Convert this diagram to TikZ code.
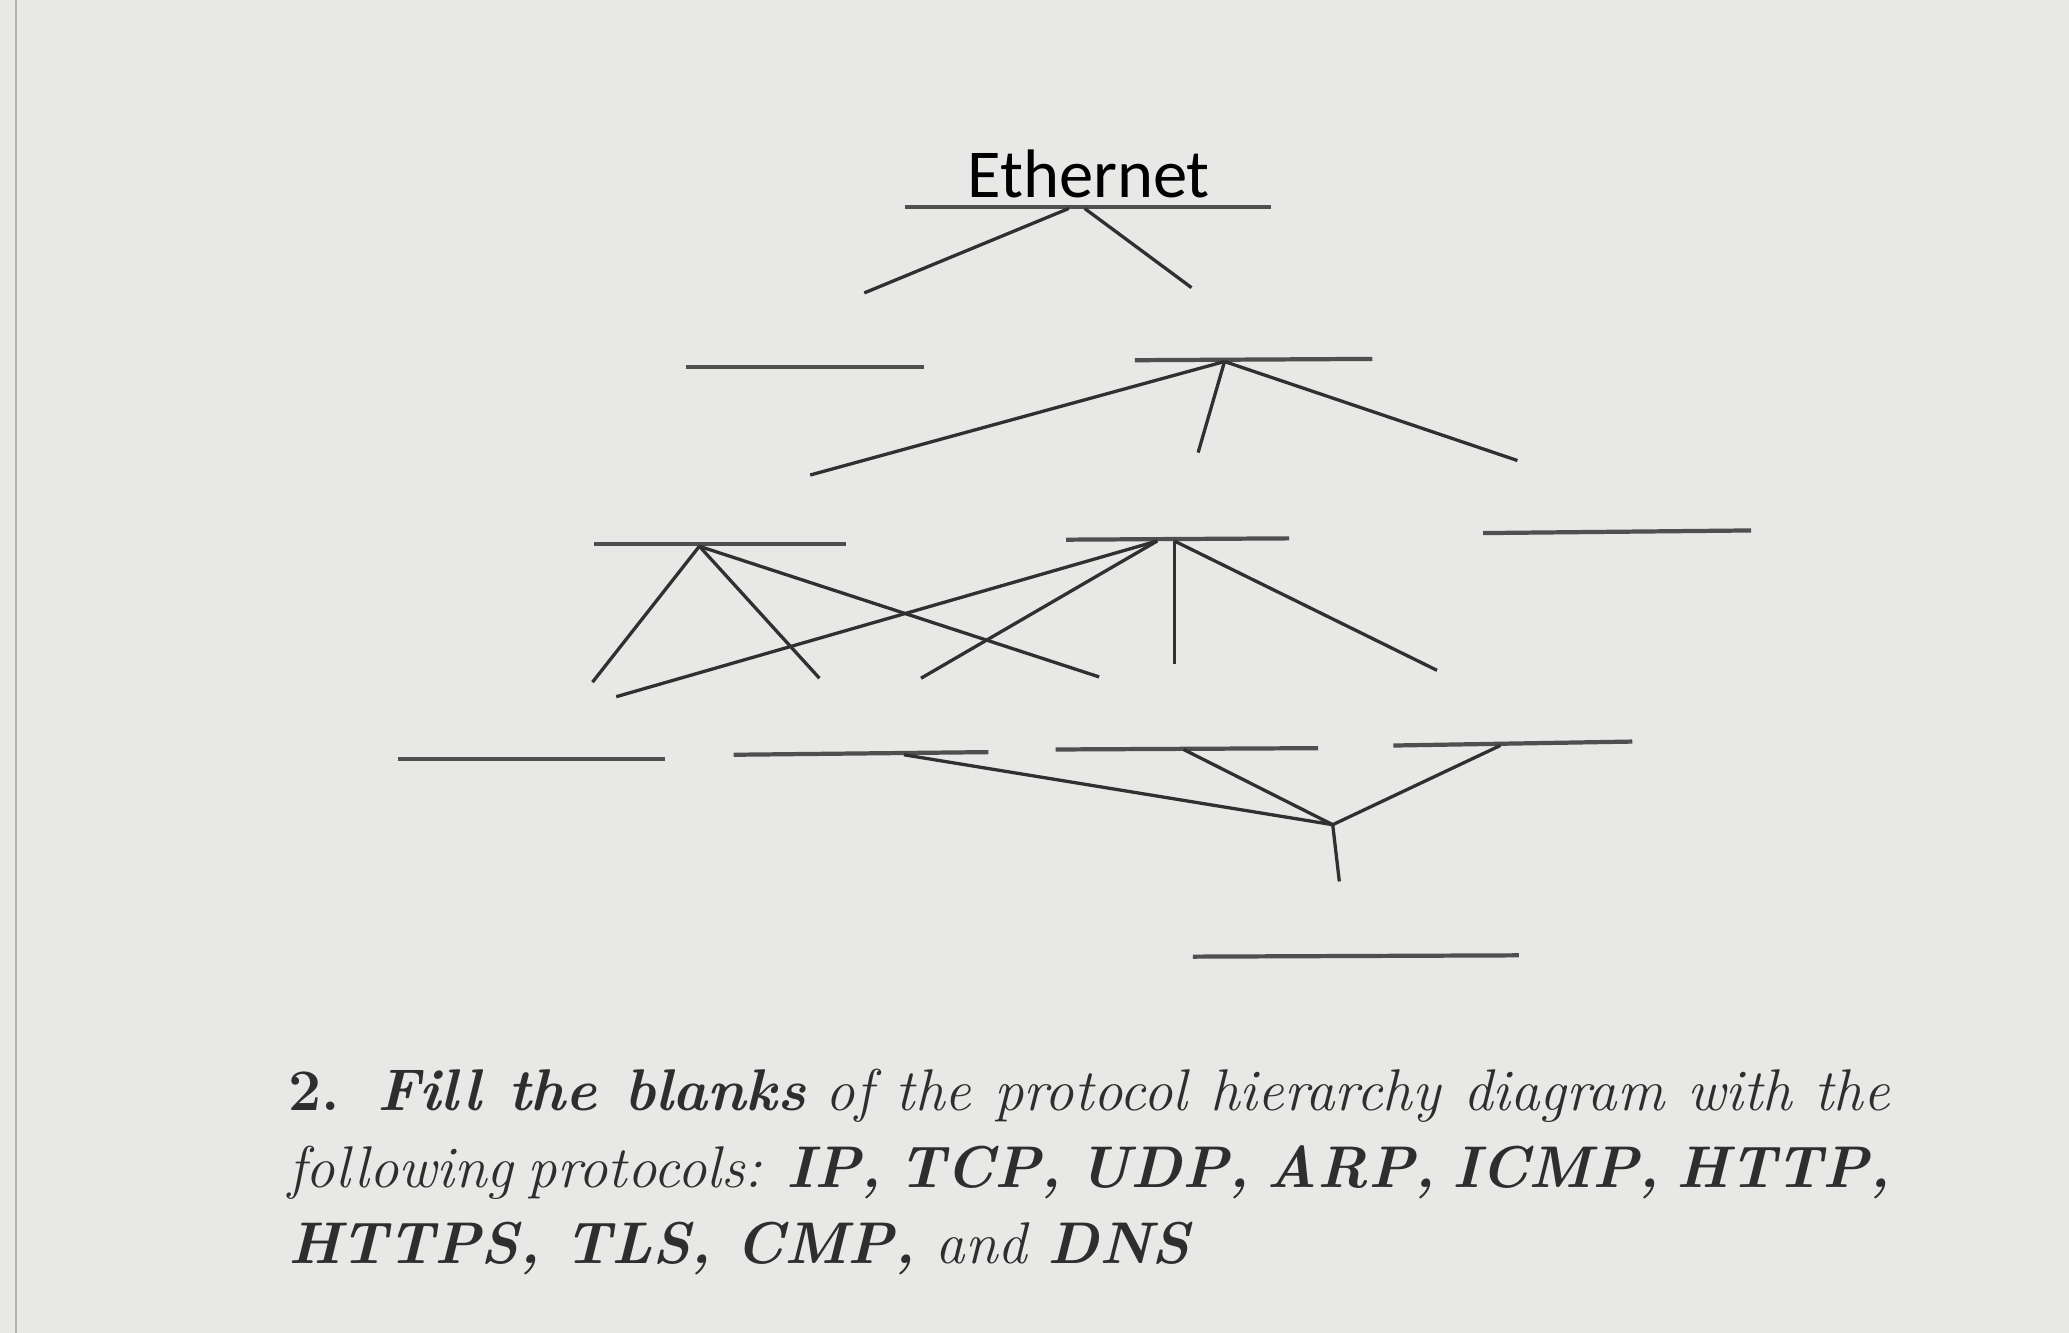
\documentclass[tikz,border=0pt]{standalone}
\usepackage{fontspec}
\newfontfamily\ethfont{Carlito}
\usepackage{xcolor}
\usepackage{tikz}
\usetikzlibrary{positioning}
\definecolor{paper}{HTML}{E8E8E6}
\definecolor{ink}{HTML}{303030}
\tikzset{blank/.style={line width=1.6pt, color=ink!85},
         branch/.style={line width=1.25pt, color=ink}}

\begin{document}
\begin{tikzpicture}
[every node/.style={inner sep=0pt}]
\fill [paper] (0pt, 0pt) rectangle (784pt, -505pt);
\useasboundingbox (0pt, 0pt) rectangle (784pt, -505pt);
\draw [line width=0.6pt, color=gray!60] (6pt, 0pt) -- (6pt, -505pt);
% top: Ethernet
\node (eth) [font=\ethfont\fontsize{26}{31}\selectfont, anchor=base] at (412.5pt, -75pt) {Ethernet};
\coordinate (ethW) at (343pt, -78.5pt);
\coordinate (ethE) at (481.5pt, -78.5pt);
\coordinate (ethT) at (405pt, -79pt);
\coordinate (ethT2) at (411pt, -79pt);
\coordinate (ethA) at (327.5pt, -111pt);
\coordinate (ethB) at (451.5pt, -109pt);
\draw [blank] (ethW) to (ethE);
\draw [branch] (ethT) to (ethA);
\draw [branch] (ethT2) to (ethB);
% second row
\coordinate (r2aW) at (260pt, -139pt);
\coordinate (r2aE) at (350pt, -139pt);
\coordinate (r2bW) at (430pt, -136.5pt);
\coordinate (r2bE) at (520pt, -136pt);
\coordinate (r2bT) at (464pt, -137pt);
\coordinate (r2bA) at (307pt, -180pt);
\coordinate (r2bB) at (454pt, -171.5pt);
\coordinate (r2bC) at (575pt, -174.5pt);
\draw [blank] (r2aW) to (r2aE);
\draw [blank] (r2bW) to (r2bE);
\draw [branch] (r2bT) to (r2bA);
\draw [branch] (r2bT) to (r2bB);
\draw [branch] (r2bT) to (r2bC);
% third row
\coordinate (r3aW) at (225pt, -206pt);
\coordinate (r3aE) at (320.5pt, -206pt);
\coordinate (r3aT) at (265pt, -207pt);
\coordinate (r3aA) at (224.5pt, -258.5pt);
\coordinate (r3aB) at (310.5pt, -257pt);
\coordinate (r3aC) at (416.5pt, -256.5pt);
\coordinate (r3bW) at (404pt, -204.5pt);
\coordinate (r3bE) at (488.5pt, -204pt);
\coordinate (r3bT) at (438.5pt, -205pt);
\coordinate (r3bT2) at (445pt, -205pt);
\coordinate (r3bA) at (233.5pt, -264pt);
\coordinate (r3bB) at (349pt, -257pt);
\coordinate (r3bC) at (445pt, -251.5pt);
\coordinate (r3bD) at (544.5pt, -254pt);
\coordinate (r3cW) at (562pt, -202pt);
\coordinate (r3cE) at (663.5pt, -201pt);
\draw [blank] (r3aW) to (r3aE);
\draw [blank] (r3bW) to (r3bE);
\draw [blank] (r3cW) to (r3cE);
\draw [branch] (r3aT) to (r3aA);
\draw [branch] (r3aT) to (r3aB);
\draw [branch] (r3aT) to (r3aC);
\draw [branch] (r3bT) to (r3bA);
\draw [branch] (r3bT) to (r3bB);
\draw [branch] (r3bT2) to (r3bC);
\draw [branch] (r3bT2) to (r3bD);
% fourth row
\coordinate (r4aW) at (151pt, -287.5pt);
\coordinate (r4aE) at (252pt, -287.5pt);
\coordinate (r4bW) at (278pt, -286pt);
\coordinate (r4bE) at (374.5pt, -285pt);
\coordinate (r4cW) at (400pt, -284pt);
\coordinate (r4cE) at (499.5pt, -283.5pt);
\coordinate (r4dW) at (528pt, -282.5pt);
\coordinate (r4dE) at (618.5pt, -281pt);
\coordinate (r4bT) at (342.5pt, -286pt);
\coordinate (r4cT) at (448.5pt, -284pt);
\coordinate (r4dT) at (568.5pt, -282.5pt);
\coordinate (join) at (505pt, -312.5pt);
\coordinate (joinB) at (507.5pt, -334pt);
\draw [blank] (r4aW) to (r4aE);
\draw [blank] (r4bW) to (r4bE);
\draw [blank] (r4cW) to (r4cE);
\draw [blank] (r4dW) to (r4dE);
\draw [branch] (r4bT) to (join);
\draw [branch] (r4cT) to (join);
\draw [branch] (r4dT) to (join);
\draw [branch] (join) to (joinB);
% bottom row
\coordinate (r5W) at (452pt, -362.5pt);
\coordinate (r5E) at (575.5pt, -362pt);
\draw [blank] (r5W) to (r5E);
% question
\node (task) [anchor=north west, text width=607pt, align=justify, font=\fontsize{22.3}{29}\selectfont, color=ink!95!black] at (109pt, -405pt)
  {\textbf{2. \textit{Fill the blanks}} \textit{of the protocol hierarchy diagram with the}\linebreak
   \textit{following protocols: \textbf{IP, TCP, UDP, ARP, ICMP, HTTP,}}\linebreak
   \textit{\textbf{HTTPS, TLS, CMP,} and \textbf{DNS}}};
\end{tikzpicture}
\end{document}
